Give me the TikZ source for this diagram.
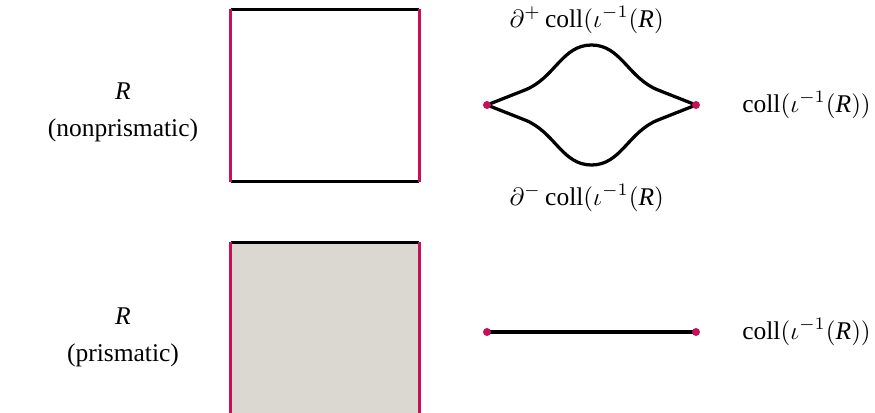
\documentclass[tikz,border=0pt]{standalone}
\usepackage{fontspec}
\setmainfont{Liberation Serif}
\usetikzlibrary{positioning,calc,backgrounds}

\definecolor{edgered}{RGB}{200,16,90}
\definecolor{prismfill}{RGB}{219,216,210}

\begin{document}
\begin{tikzpicture}[
  x=0.4pt, y=-0.4pt,
  sq/.style={rectangle, inner sep=0pt, minimum width=75pt, minimum height=68.6pt},
  flat/.style={line width=1.2pt, black},
  side/.style={line width=1.2pt, edgered},
  dot/.style={circle, fill=edgered, inner sep=0pt, minimum size=3.2pt},
  curve/.style={line width=1.3pt, line join=round},
  lbl/.style={align=center, inner sep=1pt, font=\fontsize{10.2}{12}\selectfont},
]
\useasboundingbox (0,0) rectangle (875,413);

% === NONPRISMATIC ROW ===
\node[lbl] (rtop) at (123,91) {$\mathit{R}$};
\node[lbl] (ntop) at (123,130) {(nonprismatic)};

\node[sq] (sq1) at (325,95.5) {};
\draw[flat] (sq1.north west) -- (sq1.north east);
\draw[flat] (sq1.south west) -- (sq1.south east);
\draw[side] (sq1.north west) -- (sq1.south west);
\draw[side] (sq1.north east) -- (sq1.south east);

\node[dot] (a1) at (487,105) {};
\node[dot] (b1) at (696,105) {};
\coordinate (hi) at (591.5,45);
\coordinate (lo) at (591.5,165);

\begin{scope}[on background layer]
\draw[curve] (a1.center) -- ++(38,-15) .. controls +(30,-12) and +(-29.5,0) .. (hi)
  .. controls +(29.5,0) and +(-30,-12) .. ($(b1.center)+(-38,-15)$) -- (b1.center);
\draw[curve] (a1.center) -- ++(38,15) .. controls +(30,12) and +(-29.5,0) .. (lo)
  .. controls +(29.5,0) and +(-30,12) .. ($(b1.center)+(-38,15)$) -- (b1.center);
\end{scope}

\node[lbl] (up) at (586.7,20) {$\partial^{+}\,\mathrm{coll}(\iota^{-1}(\mathit{R})$};
\node[lbl] (dn) at (586.7,198) {$\partial^{-}\,\mathrm{coll}(\iota^{-1}(\mathit{R})$};
\node[lbl] (ctop) at (806.5,105) {$\mathrm{coll}(\iota^{-1}(\mathit{R}))$};

% === PRISMATIC ROW ===
\node[lbl] (rbot) at (123,316) {$\mathit{R}$};
\node[lbl] (nbot) at (123,355) {(prismatic)};

\node[sq, fill=prismfill] (sq2) at (325,328.6) {};
\draw[flat] (sq2.north west) -- (sq2.north east);
\draw[flat] (sq2.south west) -- (sq2.south east);
\draw[side] (sq2.north west) -- (sq2.south west);
\draw[side] (sq2.north east) -- (sq2.south east);

\node[dot] (a2) at (487,332) {};
\node[dot] (b2) at (696,332) {};
\begin{scope}[on background layer]
\draw[curve] (a2.center) -- (b2.center);
\end{scope}

\node[lbl] (cbot) at (806.5,332) {$\mathrm{coll}(\iota^{-1}(\mathit{R}))$};
\end{tikzpicture}
\end{document}
